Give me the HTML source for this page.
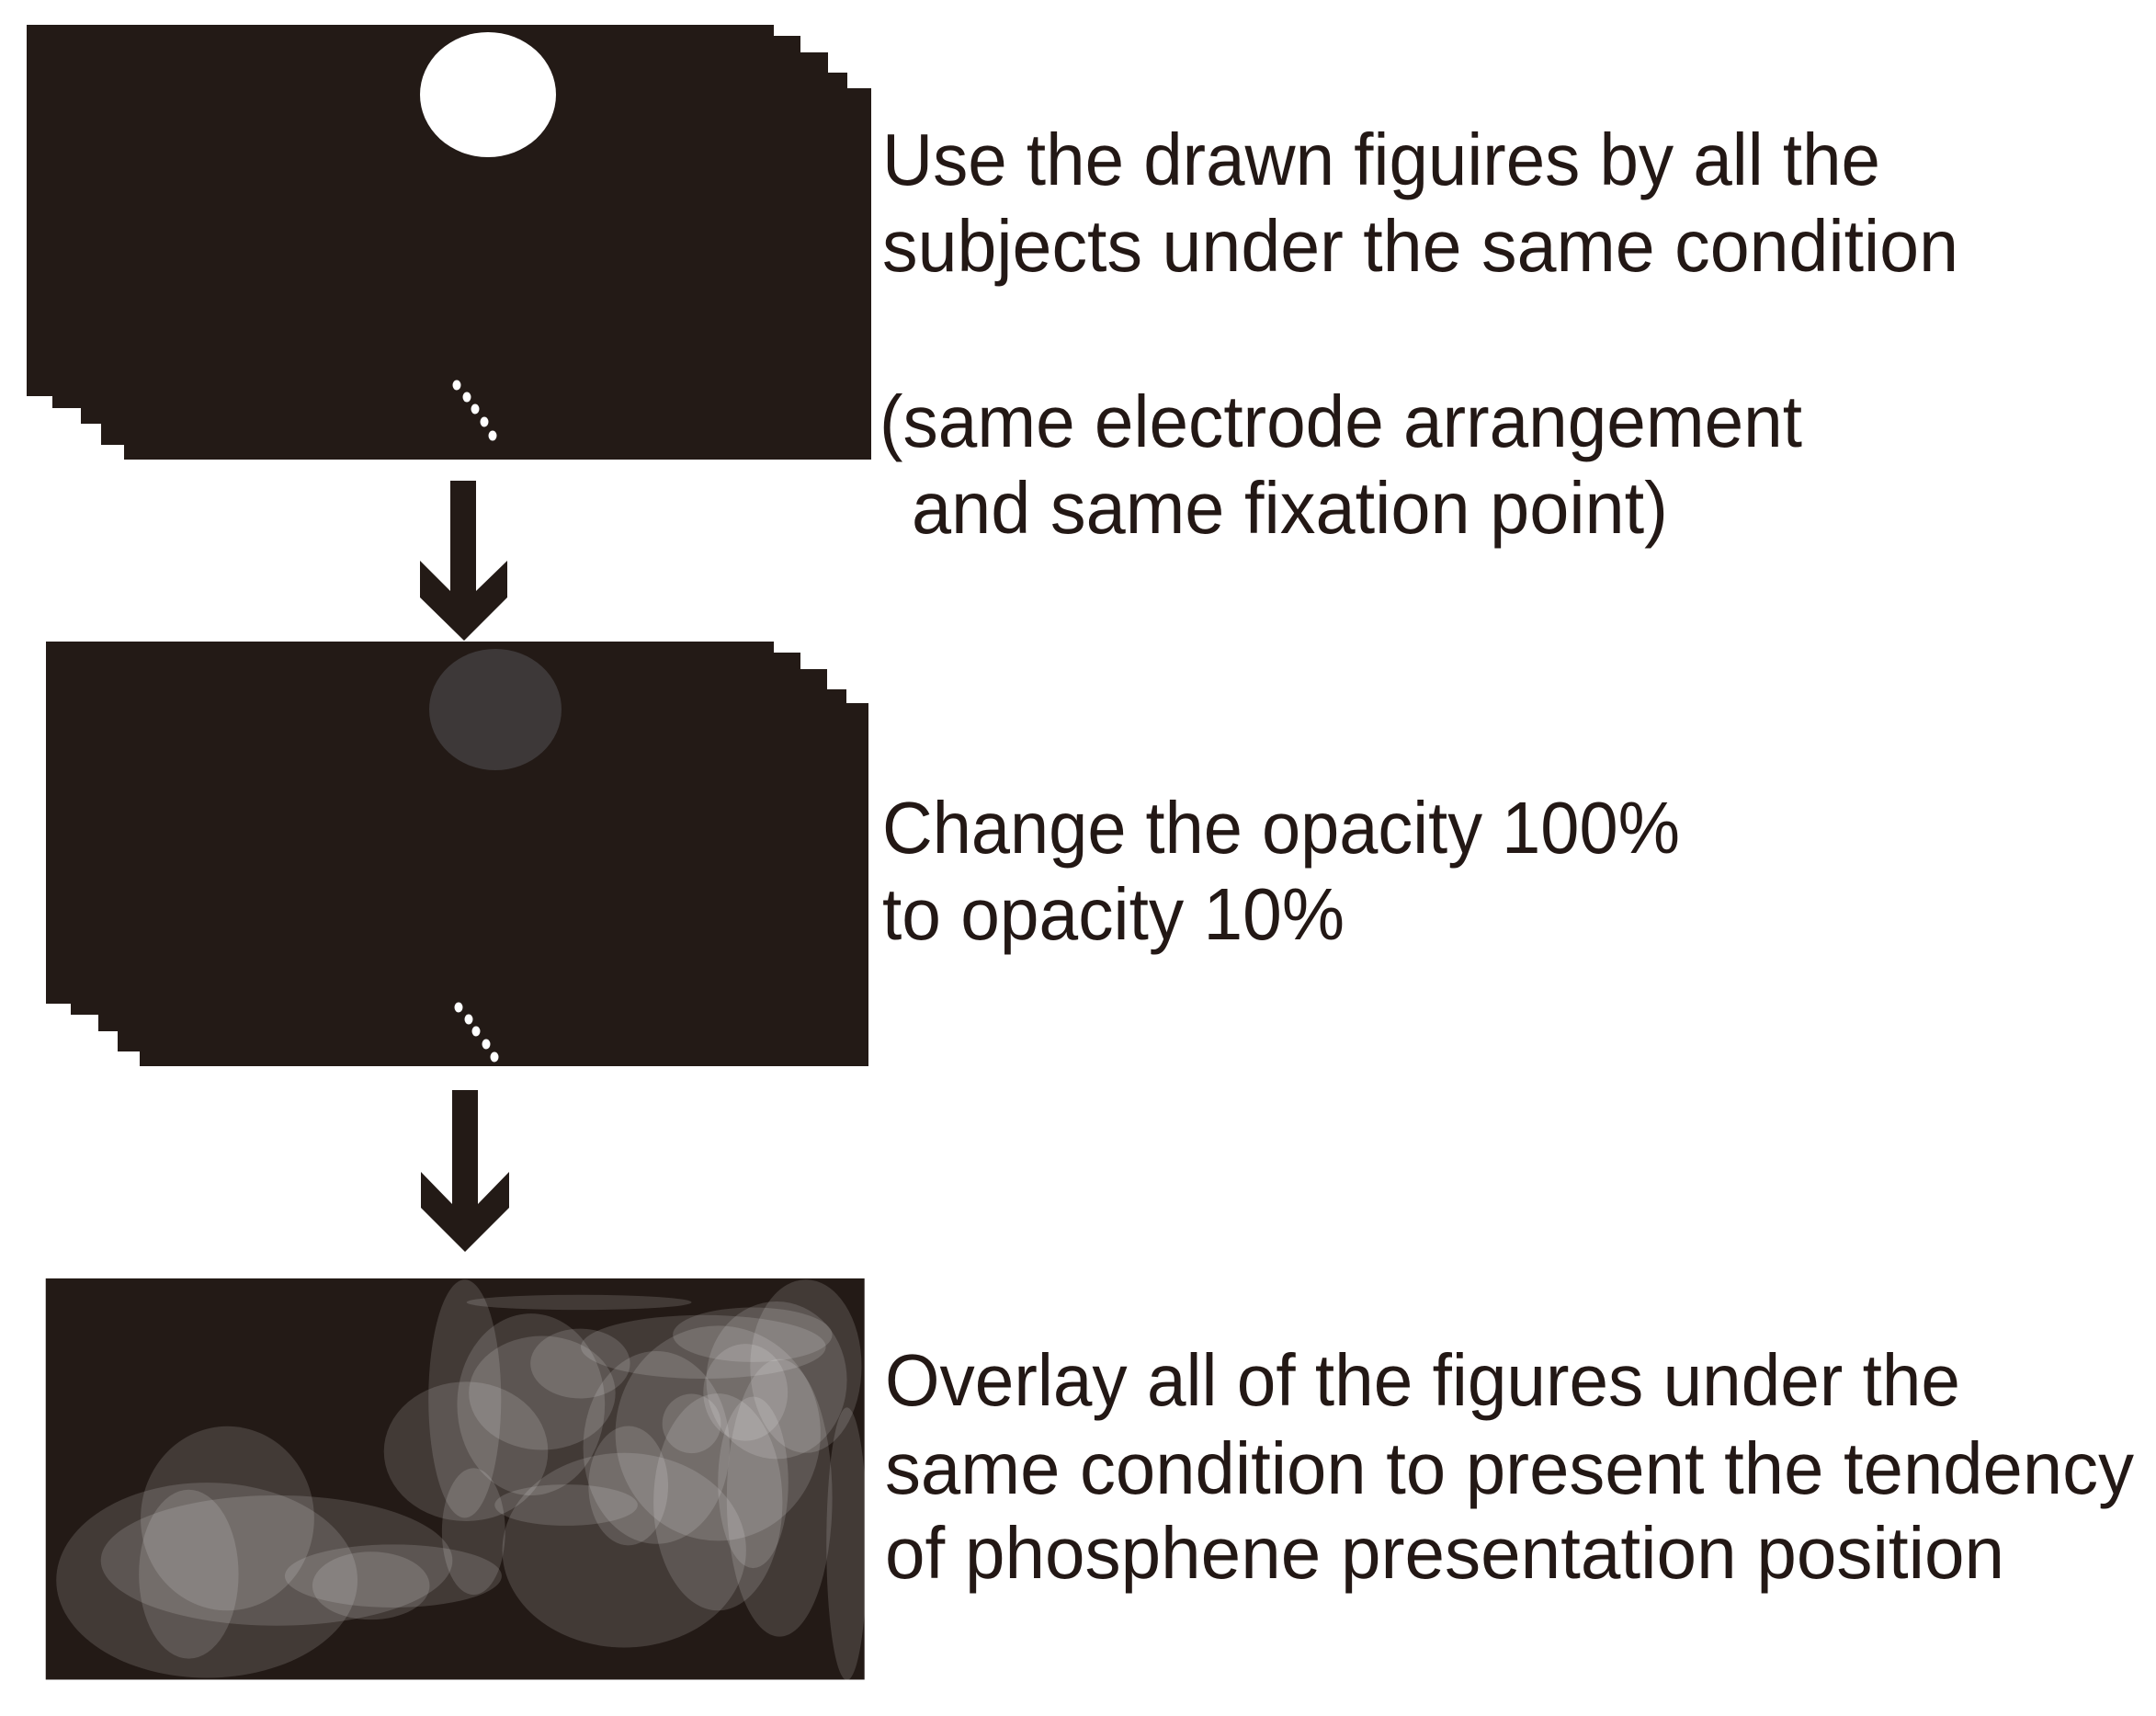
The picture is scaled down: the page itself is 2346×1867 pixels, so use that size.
<!DOCTYPE html>
<html><head><meta charset="utf-8"><style>
html,body{margin:0;padding:0;background:#fff;}
svg{display:block;}
text{font-family:"Liberation Sans",sans-serif;font-size:80px;fill:#231815;}
</style></head><body>
<svg width="2346" height="1867" viewBox="0 0 2346 1867" xmlns="http://www.w3.org/2000/svg">
<rect width="2346" height="1867" fill="#fff"/>
<!-- Panel 1 -->
<polygon fill="#231a16" points="29,27 842,27 842,39 871,39 871,57 901,57 901,79 922,79 922,96 948,96 948,500 135,500 135,484 110,484 110,461 88,461 88,444 57,444 57,431 29,431"/>
<ellipse cx="531" cy="103" rx="74" ry="68" fill="#fff"/>
<g fill="#fff">
<ellipse cx="497" cy="419" rx="4.5" ry="5.5"/><ellipse cx="508" cy="432" rx="4.5" ry="5.5"/><ellipse cx="517" cy="445" rx="4.5" ry="5.5"/><ellipse cx="527" cy="459" rx="4.5" ry="5.5"/><ellipse cx="536" cy="474" rx="4.5" ry="5.5"/>
</g>
<!-- Arrow 1 -->
<polygon fill="#231a16" points="490,523 518,523 518,643 552,610 552,650 505,697 457,650 457,610 490,643"/>
<!-- Panel 2 -->
<polygon fill="#231a16" points="50,698 842,698 842,710 871,710 871,728 900,728 900,750 921,750 921,765 945,765 945,1160 152,1160 152,1144 128,1144 128,1122 107,1122 107,1104 77,1104 77,1092 50,1092"/>
<ellipse cx="539" cy="772" rx="72" ry="66" fill="#3d3838"/>
<g fill="#fff">
<ellipse cx="499" cy="1096" rx="4.5" ry="5.5"/><ellipse cx="510" cy="1109" rx="4.5" ry="5.5"/><ellipse cx="518" cy="1122" rx="4.5" ry="5.5"/><ellipse cx="529" cy="1136" rx="4.5" ry="5.5"/><ellipse cx="538" cy="1150" rx="4.5" ry="5.5"/>
</g>
<!-- Arrow 2 -->
<polygon fill="#231a16" points="492,1186 520,1186 520,1310 554,1275 554,1314 506,1362 458,1314 458,1275 492,1310"/>
<!-- Panel 3 -->
<svg x="0" y="1350" width="1000" height="517" viewBox="0 0 1568 1568" preserveAspectRatio="none">
<defs><clipPath id="c"><rect x="78" y="124" width="1397" height="1324"/></clipPath></defs>
<rect x="78" y="124" width="1397" height="1324" fill="#231a16"/>
<g clip-path="url(#c)" fill="#fff" fill-opacity="0.14">
<ellipse cx="353" cy="1120" rx="257" ry="322"/>
<ellipse cx="388" cy="916" rx="148" ry="304"/>
<ellipse cx="472" cy="1055" rx="300" ry="215"/>
<ellipse cx="322" cy="1100" rx="85" ry="279"/>
<ellipse cx="671" cy="1106" rx="185" ry="104"/>
<ellipse cx="633" cy="1138" rx="100" ry="112"/>
<ellipse cx="808" cy="959" rx="54" ry="209"/>
<ellipse cx="1065" cy="1021" rx="208" ry="321"/>
<ellipse cx="793" cy="521" rx="62" ry="393"/>
<ellipse cx="988" cy="203" rx="192" ry="25"/>
<ellipse cx="795" cy="695" rx="140" ry="230"/>
<ellipse cx="906" cy="540" rx="126" ry="300"/>
<ellipse cx="925" cy="502" rx="125" ry="188"/>
<ellipse cx="990" cy="405" rx="85" ry="115"/>
<ellipse cx="966" cy="872" rx="122" ry="68"/>
<ellipse cx="1200" cy="350" rx="209" ry="105"/>
<ellipse cx="1120" cy="682" rx="125" ry="318"/>
<ellipse cx="1072" cy="808" rx="68" ry="197"/>
<ellipse cx="1225" cy="635" rx="175" ry="355"/>
<ellipse cx="1225" cy="862" rx="110" ry="358"/>
<ellipse cx="1284" cy="310" rx="136" ry="90"/>
<ellipse cx="1325" cy="460" rx="120" ry="260"/>
<ellipse cx="1330" cy="848" rx="90" ry="458"/>
<ellipse cx="1375" cy="414" rx="95" ry="286"/>
<ellipse cx="1285" cy="797" rx="60" ry="283"/>
<ellipse cx="1445" cy="1000" rx="35" ry="450"/>
<ellipse cx="1272" cy="500" rx="72" ry="160"/>
<ellipse cx="1180" cy="603" rx="50" ry="98"/>
</g>
</svg>
<!-- Texts -->
<text x="960" y="201" textLength="1086" lengthAdjust="spacingAndGlyphs">Use the drawn figuires by all the</text>
<text x="960" y="295" textLength="1171" lengthAdjust="spacingAndGlyphs">subjects under the same condition</text>
<text x="957" y="486" textLength="1004" lengthAdjust="spacingAndGlyphs">(same electrode arrangement</text>
<text x="992" y="580" textLength="823" lengthAdjust="spacingAndGlyphs">and same fixation point)</text>
<text x="960" y="928" textLength="868" lengthAdjust="spacingAndGlyphs">Change the opacity 100%</text>
<text x="960" y="1022" textLength="503" lengthAdjust="spacingAndGlyphs">to opacity 10%</text>
<text x="963" y="1529" textLength="1170" lengthAdjust="spacingAndGlyphs">Overlay all of the figures under the</text>
<text x="963" y="1625" textLength="1359" lengthAdjust="spacingAndGlyphs">same condition to present the tendency</text>
<text x="963" y="1717" textLength="1218" lengthAdjust="spacingAndGlyphs">of phosphene presentation position</text>
</svg>
</body></html>
